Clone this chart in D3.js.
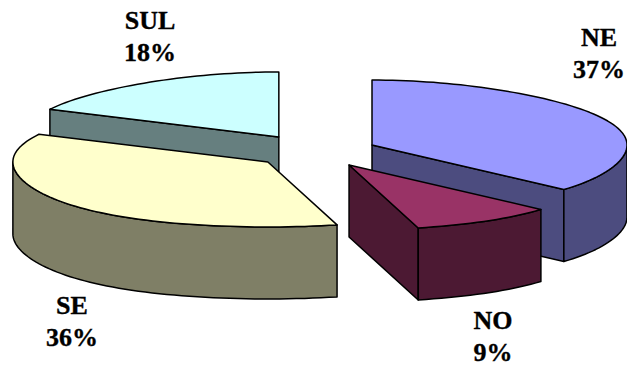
<!DOCTYPE html>
<html><head><meta charset="utf-8">
<script src="https://cdnjs.cloudflare.com/ajax/libs/d3/7.8.5/d3.min.js"></script>
<style>html,body{margin:0;padding:0;background:#fff;overflow:hidden}svg{display:block}</style>
</head><body><svg id="c" width="627" height="367"></svg>
<script>
const categories = ["NE","NO","SE","SUL"];
const values = [37,9,36,18];
const topColors = ["#9999FF","#993366","#FFFFCC","#CCFFFF"];
const sideColors = ["#4C4C7F","#4C1933","#7F7F66","#667F7F"];
const labelAnchors = [[599,46],[493,329],[72,314],[150,29]];
const apexNudges = [[-1.5,-0.5],[1.6,-1],[2,-0.4],[-2,-1.3]];
const drawOrder = [3,0,2,1];

const W=627,H=367,cx=315,cy=152,R=255,ry=65,depth=72,explode=0.25,persp=0.1;
const sx=d3.scaleLinear().domain([-1,1]).range([cx-R,cx+R]);
const sy=d3.scaleLinear().domain([-1,1]).range([cy+ry,cy-ry]);
const arcs=d3.pie().sort(null).value(d=>d)(values);
const svg=d3.select("#c");
const line=d3.line();

function rim(a,c,d){
  const X=Math.sin(a),Y=Math.cos(a);
  return [c[0]+sx(X*(1-persp*Y*Y*Y))-sx(0),c[1]+sy(Y)-sy(0)+d];
}
function rimPts(a0,a1,c,d){
  const n=Math.max(2,Math.ceil((a1-a0)/0.03));
  return d3.range(n+1).map(i=>rim(a0+(a1-a0)*i/n,c,d));
}
const strokeStyle=s=>s.attr("stroke","#000").attr("stroke-width",1.5).attr("stroke-linejoin","round");

drawOrder.forEach(i=>{
  const a=arcs[i],mid=(a.startAngle+a.endAngle)/2;
  const apex=[sx(explode*Math.sin(mid))+apexNudges[i][0],sy(explode*Math.cos(mid))+apexNudges[i][1]];
  const g=svg.append("g");
  [[a.startAngle,Math.sin(a.startAngle)<-1e-6],[a.endAngle,Math.sin(a.endAngle)>1e-6]].forEach(([t,vis])=>{
    if(!vis)return;
    const p=rim(t,apex,0);
    g.append("path").attr("d",line([apex,p,[p[0],p[1]+depth],[apex[0],apex[1]+depth]])+"Z")
      .attr("fill",sideColors[i]).call(strokeStyle);
  });
  const f0=Math.max(a.startAngle,Math.PI/2),f1=Math.min(a.endAngle,3*Math.PI/2);
  if(f1>f0){
    const up=rimPts(f0,f1,apex,0),dn=rimPts(f0,f1,apex,depth).reverse();
    g.append("path").attr("d",line(up.concat(dn))+"Z").attr("fill",sideColors[i]).call(strokeStyle);
  }
  g.append("path").attr("d",line([apex].concat(rimPts(a.startAngle,a.endAngle,apex,0)))+"Z")
    .attr("fill",topColors[i]).call(strokeStyle);
});

categories.forEach((c,i)=>{
  const t=svg.append("text").attr("text-anchor","middle")
    .attr("font-family","'Liberation Serif','Times New Roman',serif")
    .attr("font-weight","bold").attr("font-size",26).attr("fill","#000")
    .attr("stroke","#000").attr("stroke-width",0.35);
  t.append("tspan").attr("x",labelAnchors[i][0]).attr("y",labelAnchors[i][1]).text(c);
  t.append("tspan").attr("x",labelAnchors[i][0]).attr("y",labelAnchors[i][1]+32).text(values[i]+"%");
});
</script></body></html>
